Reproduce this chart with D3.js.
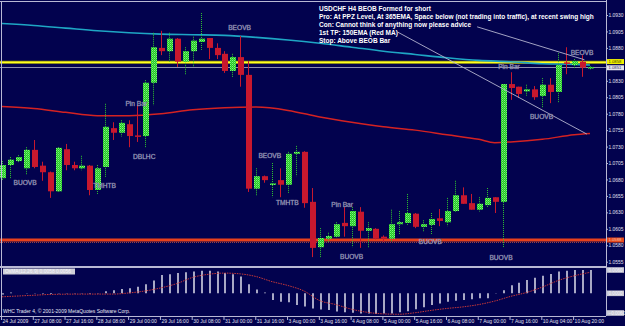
<!DOCTYPE html>
<html>
<head>
<meta charset="utf-8">
<script src="https://cdn.jsdelivr.net/npm/d3@7"></script>
<style>
  body { margin: 0; background: #02024e; }
  svg { display: block; font-family: 'Liberation Sans', Arial, sans-serif; }
</style>
</head>
<body>
<div id="chart"></div>
<script>
// USDCHF H4 candles
const opens = [1.0682, 1.0702, 1.0708, 1.0697, 1.0725, 1.0701, 1.0691, 1.0662, 1.0726, 1.0702,
  1.0697, 1.0701, 1.0664, 1.0699, 1.0758, 1.0751, 1.0764, 1.0747, 1.0746, 1.0827,
  1.0880, 1.0875, 1.0894, 1.0859, 1.0875, 1.0889, 1.0895, 1.0880, 1.0871, 1.0845,
  1.0866, 1.0839, 1.0666, 1.0685, 1.0673, 1.0679, 1.0672, 1.0719, 1.0722, 1.0646,
  1.0577, 1.0590, 1.0593, 1.0614, 1.0609, 1.0631, 1.0602, 1.0605, 1.0593, 1.0590,
  1.0612, 1.0614, 1.0628, 1.0608, 1.0611, 1.0621, 1.0615, 1.0632, 1.0656, 1.0644,
  1.0634, 1.0641, 1.0653, 1.0646, 1.0825, 1.0821, 1.0814, 1.0817, 1.0807, 1.0824,
  1.0813, 1.0858, 1.0854, 1.0859, 1.0849]
const highs = [1.0708, 1.0714, 1.0717, 1.0729, 1.0740, 1.0707, 1.0692, 1.0729, 1.0734, 1.0707,
  1.0716, 1.0702, 1.0702, 1.0795, 1.0767, 1.0770, 1.0770, 1.0793, 1.0831, 1.0903,
  1.0906, 1.0903, 1.0895, 1.0881, 1.0897, 1.0933, 1.0895, 1.0887, 1.0875, 1.0871,
  1.0898, 1.0860, 1.0697, 1.0686, 1.0705, 1.0697, 1.0722, 1.0731, 1.0723, 1.0667,
  1.0606, 1.0599, 1.0615, 1.0638, 1.0638, 1.0638, 1.0615, 1.0606, 1.0595, 1.0634,
  1.0632, 1.0658, 1.0629, 1.0618, 1.0629, 1.0635, 1.0652, 1.0678, 1.0668, 1.0658,
  1.0653, 1.0667, 1.0653, 1.0825, 1.0843, 1.0821, 1.0824, 1.0822, 1.0834, 1.0834,
  1.0872, 1.0881, 1.0863, 1.0869, 1.0852]
const lows = [1.0679, 1.0682, 1.0705, 1.0687, 1.0697, 1.0678, 1.0652, 1.0661, 1.0694, 1.0694,
  1.0694, 1.0656, 1.0658, 1.0684, 1.0740, 1.0745, 1.0729, 1.0737, 1.0729, 1.0793,
  1.0869, 1.0859, 1.0851, 1.0839, 1.0851, 1.0877, 1.0863, 1.0863, 1.0842, 1.0836,
  1.0821, 1.0661, 1.0656, 1.0675, 1.0653, 1.0653, 1.0659, 1.0685, 1.0637, 1.0562,
  1.0562, 1.0585, 1.0591, 1.0593, 1.0577, 1.0576, 1.0577, 1.0589, 1.0585, 1.0585,
  1.0596, 1.0611, 1.0606, 1.0601, 1.0596, 1.0609, 1.0609, 1.0631, 1.0643, 1.0634,
  1.0631, 1.0637, 1.0629, 1.0576, 1.0801, 1.0804, 1.0807, 1.0801, 1.0789, 1.0796,
  1.0796, 1.0840, 1.0849, 1.0836, 1.0847]
const closes = [1.0702, 1.0710, 1.0714, 1.0725, 1.0699, 1.0691, 1.0662, 1.0728, 1.0702, 1.0697,
  1.0701, 1.0664, 1.0697, 1.0760, 1.0751, 1.0766, 1.0746, 1.0746, 1.0827, 1.0881,
  1.0875, 1.0894, 1.0859, 1.0875, 1.0891, 1.0894, 1.0880, 1.0869, 1.0845, 1.0866,
  1.0839, 1.0666, 1.0685, 1.0679, 1.0674, 1.0672, 1.0719, 1.0722, 1.0644, 1.0576,
  1.0591, 1.0594, 1.0612, 1.0609, 1.0632, 1.0602, 1.0606, 1.0590, 1.0590, 1.0612,
  1.0615, 1.0629, 1.0608, 1.0612, 1.0620, 1.0617, 1.0632, 1.0656, 1.0643, 1.0634,
  1.0643, 1.0652, 1.0646, 1.0825, 1.0819, 1.0810, 1.0817, 1.0805, 1.0824, 1.0813,
  1.0854, 1.0856, 1.0860, 1.0850, 1.0851]

// moving averages, sampled at these candle numbers
const ema365Index = [0, 4, 8, 12, 16, 20, 24, 28, 32, 36, 40, 44, 48, 52, 56, 60, 64, 68, 72, 74]
const ema365 = [1.0917, 1.0914, 1.0910, 1.0906, 1.0903, 1.0901, 1.0900, 1.0899, 1.0896, 1.0892,
  1.0887, 1.0881, 1.0875, 1.0870, 1.0865, 1.0861, 1.0859, 1.0856, 1.0855, 1.0854]
const ema150Index = [0, 4, 8, 12, 16, 20, 24, 28, 32, 36, 40, 44, 48, 52, 56, 60, 62, 64, 68, 72, 74]
const ema150 = [1.0791, 1.0788, 1.0782, 1.0777, 1.0777, 1.0780, 1.0786, 1.0789, 1.0790, 1.0785,
  1.0775, 1.0767, 1.0760, 1.0755, 1.0748, 1.0741, 1.0736, 1.0737, 1.0741, 1.0748, 1.0750]

// horizontal levels
const ppzLevel = 1.0858
const bidLevel = 1.0851
const supportLevel = 1.0588

// price axis ticks (1.0855 is hidden under the level boxes)
const priceTicks = [1.0555, 1.0580, 1.0605, 1.0630, 1.0655, 1.0680, 1.0705, 1.0730, 1.0755,
  1.0780, 1.0805, 1.0830, 1.0880, 1.0905, 1.0930]

// oscillator (histogram + signal)
const histogram = [-0.0003, 0.0002, 0.0000, 0.0001, 0.0001, -0.0001, -0.0002, 0.0001, 0.0001, 0.0001,
  0.0001, -0.0001, 0.0001, 0.0005, 0.0008, 0.0011, 0.0013, 0.0017, 0.0023, 0.0033,
  0.0047, 0.0049, 0.0052, 0.0054, 0.0056, 0.0058, 0.0058, 0.0056, 0.0052, 0.0049,
  0.0043, 0.0023, 0.0010, 0.0002, -0.0017, -0.0022, -0.0023, -0.0030, -0.0034, -0.0039,
  -0.0042, -0.0043, -0.0047, -0.0049, -0.0050, -0.0052, -0.0052, -0.0053, -0.0052, -0.0052,
  -0.0049, -0.0046, -0.0041, -0.0036, -0.0030, -0.0026, -0.0022, -0.0019, -0.0017, -0.0015,
  -0.0013, -0.0013, 0.0001, 0.0008, 0.0021, 0.0027, 0.0034, 0.0040, 0.0045, 0.0050,
  0.0056, 0.0058, 0.0060, 0.0060, 0.0060]
const signalIndex = [0, 4, 6, 10, 14, 16, 18, 20, 22, 24, 26, 28, 30, 32, 34, 36, 38, 40, 42, 44,
  46, 48, 50, 52, 54, 56, 58, 60, 62, 64, 66, 68, 70, 72, 74]
const signal = [-0.0009, -0.0005, -0.0003, -0.0002, -0.0002, 0.0001, 0.0006, 0.0014, 0.0025, 0.0041,
  0.0049, 0.0052, 0.0050, 0.0043, 0.0030, 0.0020, 0.0006, -0.0019, -0.0029, -0.0041,
  -0.0049, -0.0053, -0.0054, -0.0050, -0.0044, -0.0039, -0.0035, -0.0029, -0.0020, -0.0008,
  0.0002, 0.0016, 0.0033, 0.0045, 0.0054]
const subLabels = [0.0060, 0, -0.0060]

// time axis labels every 4 bars
const timeLabels = ['24 Jul 2009', '27 Jul 08:00', '27 Jul 16:00', '28 Jul 08:00', '29 Jul 00:00',
  '29 Jul 16:00', '30 Jul 08:00', '31 Jul 00:00', '31 Jul 16:00', '3 Aug 00:00', '3 Aug 16:00',
  '4 Aug 08:00', '5 Aug 00:00', '5 Aug 16:00', '6 Aug 08:00', '7 Aug 00:00', '7 Aug 16:00',
  '10 Aug 04:00', '10 Aug 20:00']

// pattern names written on the chart
const patternText = ['BUOVB', 'TMHTB', 'DBLHC', 'Pin Bar', 'BEOVB', 'BEOVB', 'TMHTB', 'Pin Bar',
  'BUOVB', 'BUOVB', 'BUOVB', 'Pin Bar', 'BUOVB', 'BEOVB']
const patternBar = [2.9, 12.9, 17.9, 16.9, 29.9, 33.7, 35.9, 42.8, 44, 53.9, 62.8, 63.8, 67.9, 73]
const patternPrice = [1.0675, 1.0670, 1.0714, 1.0795, 1.0910, 1.0716, 1.0644, 1.0641, 1.0562, 1.0585,
  1.0561, 1.0851, 1.0776, 1.0872]

const noteLines = ['USDCHF H4 BEOB Formed for short',
  'Pro: At PPZ Level, At 365EMA, Space below (not trading into traffic), at recent swing high',
  'Con: Cannot think of anything now please advice',
  '1st TP: 150EMA (Red MA)',
  'Stop: Above BEOB Bar']

let width = 625
let height = 326
let axisX = 606
let mainBottom = 266
let subBottom = 316

let svg = d3
  .select('#chart')
  .append('svg')
  .attr('width', width)
  .attr('height', height)

let bg = '#02024e'
let frame = '#b8b8d4'
let downColor = '#c8182e'

svg.append('rect').attr('width', width).attr('height', height).attr('fill', bg)

let defs = svg.append('defs')
let pat = defs
  .append('pattern')
  .attr('id', 'up-fill')
  .attr('width', 2)
  .attr('height', 2)
  .attr('patternUnits', 'userSpaceOnUse')
pat.append('rect').attr('width', 2).attr('height', 2).attr('fill', '#26c426')
pat.append('rect').attr('width', 1).attr('height', 1).attr('fill', '#7cf57c')
pat.append('rect').attr('x', 1).attr('y', 1).attr('width', 1).attr('height', 1).attr('fill', '#4ee24e')

defs
  .append('clipPath')
  .attr('id', 'main-clip')
  .append('rect')
  .attr('x', 0)
  .attr('y', 2)
  .attr('width', axisX)
  .attr('height', mainBottom - 2)

let xPositionScale = d3.scaleLinear().domain([0, 74]).range([2, 590])
let yPositionScale = d3.scaleLinear().domain([1.0555, 1.0930]).range([261.7, 15])
let ySubScale = d3.scaleLinear().domain([-0.0060, 0.0060]).range([316.6, 270])

let candles = opens.map((o, i) => ({
  i: i,
  open: o,
  high: highs[i],
  low: lows[i],
  close: closes[i]
}))

let main = svg.append('g').attr('clip-path', 'url(#main-clip)')

// frame lines
svg.append('line').attr('x1', 0).attr('x2', axisX).attr('y1', 1.5).attr('y2', 1.5)
  .attr('stroke', frame).attr('stroke-width', 1)
svg.append('line').attr('x1', 1.5).attr('x2', 1.5).attr('y1', 1).attr('y2', subBottom)
  .attr('stroke', frame).attr('stroke-width', 1)
svg.append('line').attr('x1', axisX + 0.5).attr('x2', axisX + 0.5).attr('y1', 0).attr('y2', subBottom)
  .attr('stroke', frame).attr('stroke-width', 1)
svg.append('line').attr('x1', 0).attr('x2', axisX).attr('y1', mainBottom + 1).attr('y2', mainBottom + 1)
  .attr('stroke', frame).attr('stroke-width', 2)
svg.append('line').attr('x1', 0).attr('x2', axisX).attr('y1', subBottom + 0.5).attr('y2', subBottom + 0.5)
  .attr('stroke', frame).attr('stroke-width', 1)

// horizontal levels
main.append('line')
  .attr('x1', 0).attr('x2', axisX)
  .attr('y1', yPositionScale(ppzLevel)).attr('y2', yPositionScale(ppzLevel))
  .attr('stroke', '#8c8c10').attr('stroke-width', 3)
main.append('line')
  .attr('x1', 0).attr('x2', axisX)
  .attr('y1', yPositionScale(ppzLevel)).attr('y2', yPositionScale(ppzLevel))
  .attr('stroke', '#ffff20').attr('stroke-width', 1.6)
main.append('line')
  .attr('x1', 0).attr('x2', axisX)
  .attr('y1', Math.round(yPositionScale(bidLevel)) + 0.5).attr('y2', Math.round(yPositionScale(bidLevel)) + 0.5)
  .attr('stroke', '#8e8eae').attr('stroke-width', 1)
main.append('line')
  .attr('x1', 0).attr('x2', axisX)
  .attr('y1', yPositionScale(supportLevel)).attr('y2', yPositionScale(supportLevel))
  .attr('stroke', '#e8401c').attr('stroke-width', 3)
main.append('line')
  .attr('x1', 0).attr('x2', axisX)
  .attr('y1', yPositionScale(supportLevel) + 2.5).attr('y2', yPositionScale(supportLevel) + 2.5)
  .attr('stroke', '#a04040').attr('stroke-width', 1).attr('stroke-dasharray', '1,1')

// moving averages
let maLine = (idx, vals) =>
  d3.line()
    .x((d, k) => xPositionScale(idx[k]))
    .y(d => yPositionScale(d))
    .curve(d3.curveMonotoneX)(vals)

main.append('path').attr('d', maLine(ema365Index, ema365))
  .attr('fill', 'none').attr('stroke', '#1ea6c4').attr('stroke-width', 1.6)
main.append('path').attr('d', maLine(ema150Index, ema150))
  .attr('fill', 'none').attr('stroke', '#d42222').attr('stroke-width', 1.5)

// candles
let bars = main.selectAll('.candle').data(candles).enter().append('g').attr('class', 'candle')
bars.append('line')
  .attr('x1', d => Math.round(xPositionScale(d.i)) + 0.5)
  .attr('x2', d => Math.round(xPositionScale(d.i)) + 0.5)
  .attr('y1', d => yPositionScale(d.high))
  .attr('y2', d => yPositionScale(d.low))
  .attr('stroke', d => (d.close >= d.open ? '#2fc42f' : downColor))
  .attr('stroke-width', 1)
  .attr('stroke-dasharray', d => (d.close >= d.open ? '1,1' : null))
bars.append('rect')
  .attr('x', d => Math.round(xPositionScale(d.i)) - 2)
  .attr('width', 6)
  .attr('y', d => yPositionScale(Math.max(d.open, d.close)))
  .attr('height', d => Math.max(1.5, Math.abs(yPositionScale(d.open) - yPositionScale(d.close))))
  .attr('fill', d => (d.close >= d.open ? 'url(#up-fill)' : downColor))

// annotation lines from the notes down to the chart
let noteFrom = [[59.8, 1.0912], [49.8, 1.0904]]
let noteTo = [[73.3, 1.0862], [73.6, 1.0749]]
noteFrom.forEach((p, k) => {
  main.append('line')
    .attr('x1', xPositionScale(p[0])).attr('y1', yPositionScale(p[1]))
    .attr('x2', xPositionScale(noteTo[k][0])).attr('y2', yPositionScale(noteTo[k][1]))
    .attr('stroke', '#b4b4d0').attr('stroke-width', 0.9)
})

// pattern names
main.selectAll('.pattern')
  .data(patternText)
  .enter()
  .append('text')
  .attr('class', 'pattern')
  .attr('x', (d, k) => xPositionScale(patternBar[k]))
  .attr('y', (d, k) => yPositionScale(patternPrice[k]))
  .attr('dy', '0.35em')
  .attr('text-anchor', 'middle')
  .attr('font-size', 6.6)
  .attr('fill', '#d8d8ec')
  .attr('stroke', '#6a6a90')
  .attr('stroke-width', 0.3)
  .text(d => d)

// notes in the top right
svg.selectAll('.note')
  .data(noteLines)
  .enter()
  .append('text')
  .attr('class', 'note')
  .attr('x', 319)
  .attr('y', (d, k) => 10.5 + k * 8.1)
  .attr('font-size', 6.5)
  .attr('font-weight', 'bold')
  .attr('fill', '#ffffff')
  .text(d => d)

// price axis
let yAxis = d3.axisRight(yPositionScale)
  .tickValues(priceTicks)
  .tickFormat(d3.format('.4f'))
  .tickSize(2)
  .tickPadding(0.5)
let yAxisG = svg.append('g').attr('class', 'axis y-axis')
  .attr('transform', 'translate(' + axisX + ',0)')
  .call(yAxis)
yAxisG.select('.domain').remove()
yAxisG.selectAll('line').attr('stroke', frame)
yAxisG.selectAll('text').attr('fill', '#e0e0f0').attr('font-size', 4.9).attr('font-family', 'Liberation Sans, Arial')

// price boxes on the axis
let priceBox = (value, yy, fill, textColor) => {
  svg.append('rect').attr('x', axisX + 1).attr('y', yy - 2.5).attr('width', 17).attr('height', 5)
    .attr('fill', fill)
  svg.append('text').attr('x', axisX + 2.5).attr('y', yy).attr('dy', '0.35em')
    .attr('font-size', 4.2).attr('fill', textColor).text(d3.format('.4f')(value))
}
priceBox(ppzLevel, yPositionScale(ppzLevel) - 0.8, '#f0f000', '#404000')
priceBox(bidLevel, yPositionScale(bidLevel) + 0.8, '#e4e4ec', '#30306a')
priceBox(supportLevel, yPositionScale(supportLevel), '#e84a1c', '#f4c0b0')

// oscillator
let sub = svg.append('g')
sub.selectAll('.hist')
  .data(histogram)
  .enter()
  .append('line')
  .attr('class', 'hist')
  .attr('x1', (d, i) => Math.round(xPositionScale(i)) + 1)
  .attr('x2', (d, i) => Math.round(xPositionScale(i)) + 1)
  .attr('y1', ySubScale(0))
  .attr('y2', d => ySubScale(d))
  .attr('stroke', '#d4d4e4')
  .attr('stroke-width', 1.6)

sub.append('path')
  .attr('d', d3.line()
    .x((d, k) => xPositionScale(signalIndex[k]))
    .y(d => ySubScale(d))
    .curve(d3.curveMonotoneX)(signal))
  .attr('fill', 'none')
  .attr('stroke', '#c83838')
  .attr('stroke-width', 1)
  .attr('stroke-dasharray', '1.5,1')

sub.append('rect').attr('x', 3).attr('y', 268.5).attr('width', 72).attr('height', 6).attr('fill', '#cfcfd8')
sub.append('text').attr('x', 5).attr('y', 271.5).attr('dy', '0.35em').attr('font-size', 4.6)
  .attr('textLength', 66).attr('lengthAdjust', 'spacingAndGlyphs')
  .attr('fill', '#f4f4f8').text('OsMA(12,26,9) 0.0058 0.0056')

subLabels.forEach(v => {
  let yy = Math.min(ySubScale(v), 313)
  svg.append('rect').attr('x', axisX + 1).attr('y', yy - 2.8).attr('width', 17).attr('height', 5.6)
    .attr('fill', '#c8c8d4')
  svg.append('text').attr('x', axisX + 2.5).attr('y', yy).attr('dy', '0.35em')
    .attr('font-size', 4.6).attr('fill', '#f4f4fa').text(d3.format('.4f')(v))
})

svg.append('text').attr('x', 3).attr('y', 313).attr('font-size', 5).attr('fill', '#e8e8f4')
  .text('WHC Trader 4, \u00a9 2001-2009 MetaQuotes Software Corp.')

// time axis
let xAxis = d3.axisBottom(xPositionScale)
  .tickValues(timeLabels.map((d, k) => k * 4))
  .tickFormat((d, k) => timeLabels[k])
  .tickSize(3)
  .tickPadding(1)
let xAxisG = svg.append('g').attr('class', 'axis x-axis')
  .attr('transform', 'translate(0,' + (subBottom + 1) + ')')
  .call(xAxis)
xAxisG.select('.domain').remove()
xAxisG.selectAll('line').attr('stroke', frame).attr('transform', 'translate(-1,0)')
xAxisG.selectAll('text')
  .attr('text-anchor', 'start')
  .attr('x', 0)
  .attr('y', 2)
  .attr('dy', '0.71em')
  .attr('fill', '#e0e0f0')
  .attr('font-size', 5)
  .attr('font-family', 'Liberation Sans, Arial')
</script>
</body>
</html>
